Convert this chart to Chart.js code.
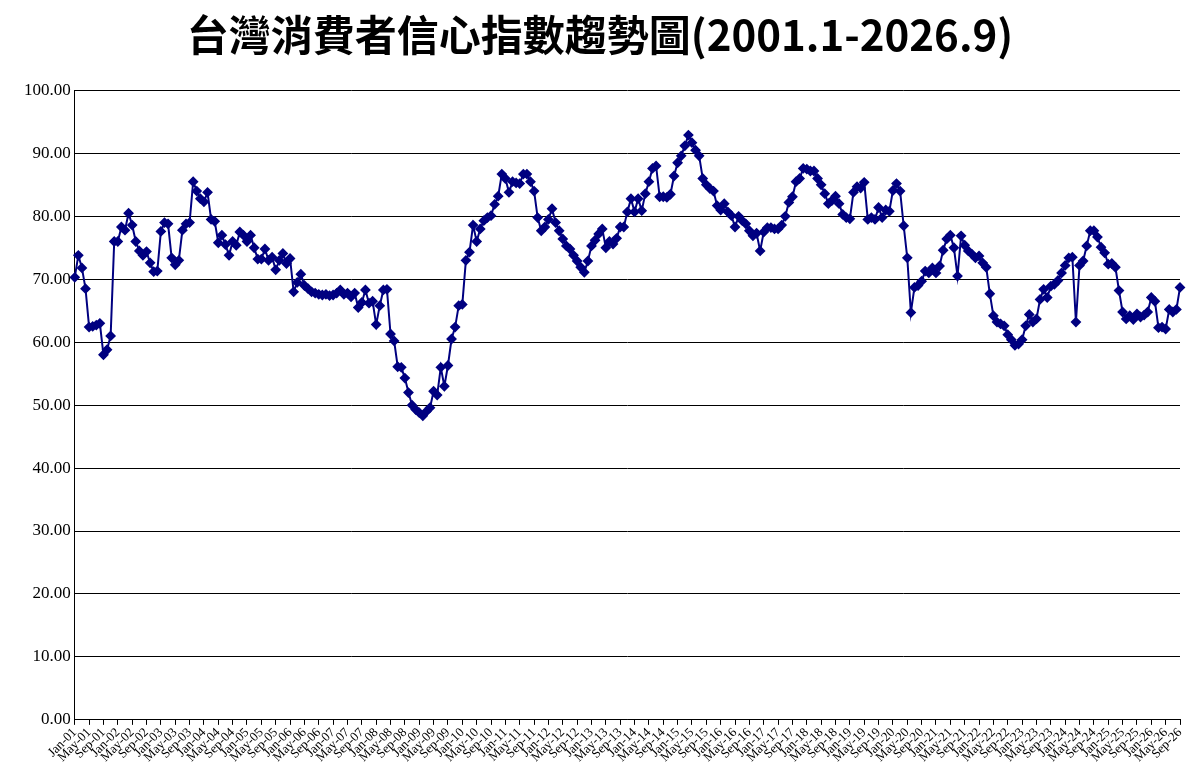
<!DOCTYPE html>
<html>
<head>
  <script src="https://cdn.jsdelivr.net/npm/chart.js"></script>
  <style>
    body { margin: 0; background: #fff; }
    #wrap { width: 1200px; height: 765px; }
  </style>
</head>
<body>
  <div id="wrap"><canvas id="cci"></canvas></div>
  <script>
    const monthNames = ['Jan','Feb','Mar','Apr','May','Jun','Jul','Aug','Sep','Oct','Nov','Dec'];
    const cci2001 = [70.3,73.8,71.8,68.5,62.4,62.5,62.7,63,58,58.8,61,76];
    const cci2002 = [76,78.3,77.8,80.5,78.6,76,74.5,73.8,74.4,72.6,71.2,71.3];
    const cci2003 = [77.6,79,78.8,73.4,72.3,73,77.8,78.8,79,85.5,84,82.8];
    const cci2004 = [82.3,83.8,79.5,79.2,75.8,77,75.5,73.8,76,75.4,77.5,77];
    const cci2005 = [76,77,75,73.2,73.2,74.8,73,73.5,71.5,73,74.1,72.5];
    const cci2006 = [73.3,68,69.5,70.8,69,68.5,68,67.8,67.6,67.5,67.6,67.4];
    const cci2007 = [67.5,67.8,68.3,67.6,67.8,67.2,67.8,65.5,66.3,68.3,66.2,66.5];
    const cci2008 = [62.8,65.8,68.3,68.4,61.3,60.2,56.1,56,54.3,52,50,49.3];
    const cci2009 = [48.8,48.3,49,49.6,52.2,51.6,56,53,56.3,60.5,62.4,65.8];
    const cci2010 = [66,73,74.3,78.6,76,78,79.3,79.8,80.1,81.9,83.2,86.7];
    const cci2011 = [86,83.8,85.5,85.3,85.2,86.7,86.7,85.5,84,79.8,77.7,78.3];
    const cci2012 = [79.5,81.2,79,77.7,76.4,75.3,74.8,73.8,72.9,71.9,71.1,72.9];
    const cci2013 = [75.3,76.2,77.2,78,75,76,75.6,76.5,78.3,78.3,80.7,82.8];
    const cci2014 = [80.7,82.8,80.9,83.6,85.5,87.6,88,83.1,83.1,83,83.5,86.4];
    const cci2015 = [88.5,89.6,91.2,92.9,91.7,90.5,89.6,86,85,84.4,84,81.7];
    const cci2016 = [81,82,80.7,80.1,78.3,80,79.3,78.8,77.7,76.9,77.3,74.5];
    const cci2017 = [77.5,78.2,78.2,78,78,78.6,80,82.2,83.1,85.5,86,87.6];
    const cci2018 = [87.5,87.2,87.2,86,85,83.6,82,82.5,83.2,82,80.3,79.8];
    const cci2019 = [79.6,83.8,84.7,84.5,85.4,79.5,79.8,79.5,81.4,79.8,81,80.8];
    const cci2020 = [84.1,85.2,84,78.5,73.4,64.7,68.7,69,69.7,71.3,71,71.8];
    const cci2021 = [71,72.1,74.6,76.4,77,75,70.5,76.9,75.4,74.5,74,73.4];
    const cci2022 = [73.7,72.6,71.9,67.7,64.2,63.2,62.9,62.6,61.2,60.4,59.5,59.7];
    const cci2023 = [60.4,62.6,64.4,63.2,63.7,66.8,68.4,67.1,68.9,69.2,69.8,71];
    const cci2024 = [72.2,73.4,73.5,63.2,72.2,72.9,75.3,77.7,77.7,76.7,75.1,74.2];
    const cci2025 = [72.4,72.5,71.9,68.2,64.8,63.7,64.2,63.6,64.5,64,64.3,64.8];
    const cci2026 = [67.1,66.5,62.3,62.4,62.1,65.2,64.8,65.2,68.7];

    const yearly = [cci2001,cci2002,cci2003,cci2004,cci2005,cci2006,cci2007,cci2008,cci2009,
      cci2010,cci2011,cci2012,cci2013,cci2014,cci2015,cci2016,cci2017,cci2018,cci2019,
      cci2020,cci2021,cci2022,cci2023,cci2024,cci2025,cci2026];

    const labels = [];
    const values = [];
    yearly.forEach((arr, yi) => {
      const yy = String(1 + yi).padStart(2, '0');
      arr.forEach((v, m) => {
        labels.push(monthNames[m] + '-' + yy);
        values.push(v);
      });
    });

    new Chart(document.getElementById('cci'), {
      type: 'line',
      data: {
        labels: labels,
        datasets: [{
          data: values,
          borderColor: '#000080',
          backgroundColor: '#000080',
          borderWidth: 2,
          pointStyle: 'rectRot',
          pointRadius: 4,
          pointHoverRadius: 4,
          tension: 0
        }]
      },
      options: {
        responsive: true,
        maintainAspectRatio: false,
        animation: false,
        layout: { padding: { left: 20, right: 20, top: 0, bottom: 0 } },
        plugins: {
          legend: { display: false },
          tooltip: { enabled: false },
          title: {
            display: true,
            text: '台灣消費者信心指數趨勢圖(2001.1-2026.9)',
            color: '#000',
            font: { family: '"Noto Sans CJK TC", "Liberation Serif", serif', size: 42, weight: 'bold' },
            padding: { top: 10, bottom: 30 }
          }
        },
        scales: {
          x: {
            offset: false,
            grid: { drawOnChartArea: false, color: '#000', tickLength: 5 },
            border: { color: '#000', width: 1 },
            ticks: {
              autoSkip: false,
              maxRotation: 45,
              minRotation: 45,
              color: '#000',
              padding: 0,
              font: { family: '"Liberation Serif", serif', size: 13 },
              callback: function (v, i) { return i % 4 === 0 ? labels[i] : null; }
            }
          },
          y: {
            min: 0,
            max: 100,
            ticks: {
              stepSize: 10,
              color: '#000',
              padding: 4,
              font: { family: '"Liberation Serif", serif', size: 17 },
              callback: v => v.toFixed(2)
            },
            grid: { color: '#000', lineWidth: 1, drawTicks: false },
            border: { color: '#000', width: 1 }
          }
        }
      }
    });
  </script>
</body>
</html>
